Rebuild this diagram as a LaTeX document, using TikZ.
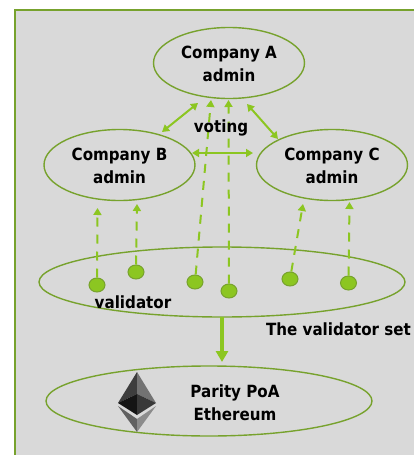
\documentclass[tikz,border=0pt]{standalone}
\usepackage{fontspec}
\setmainfont[FakeStretch=0.9]{DejaVu Sans}
\usetikzlibrary{arrows.meta,shapes.geometric}
\definecolor{frameg}{HTML}{77A22D}
\definecolor{lineg}{HTML}{8CC621}
\definecolor{panel}{HTML}{D9D9D9}
\tikzset{
  org/.style={ellipse,draw=frameg,line width=1.4pt,minimum width=#1,inner sep=0pt},
  lab/.style={font=\fontsize{16.8}{23}\selectfont\bfseries,text=black,align=center,inner sep=0pt},
  dot/.style={ellipse,draw=frameg,fill=lineg,line width=1pt,minimum width=16pt,minimum height=14pt,inner sep=0pt},
  vote/.style={draw=lineg,line width=2pt,{Triangle[length=7pt,width=8pt]}-{Triangle[length=7pt,width=8pt]}},
  report/.style={draw=lineg,line width=2pt,dash pattern=on 9pt off 8pt,-{Triangle[length=7pt,width=8pt]}},
  feed/.style={draw=lineg,line width=3.4pt,-{Triangle[length=11pt,width=12pt]}}
}
\begin{document}
\begin{tikzpicture}[x=1pt,y=-1pt]
\useasboundingbox (0,0) rectangle (413,455);
\fill[white] (0,0) rectangle (413,455);
\path[fill=panel,draw=frameg,line width=2pt] (15,470) -- (15,10) -- (430,10) -- (430,470) -- cycle;
\clip (0,0) rectangle (413,455);

\node[org=151pt,minimum height=71pt] (a) at (229,63) {};
\node[org=151pt,minimum height=71pt] (b) at (119.5,165) {};
\node[org=151pt,minimum height=71pt] (c) at (332,165) {};
\node[org=366pt,minimum height=70pt] (set) at (222,282) {};
\node[org=326pt,minimum height=70pt] (chain) at (209,401) {};

\node[dot] (d1) at (97,285) {};
\node[dot] (d2) at (136,272) {};
\node[dot] (d3) at (195,282) {};
\node[dot] (d4) at (229,291) {};
\node[dot] (d5) at (290,279) {};
\node[dot] (d6) at (348.5,283) {};

\coordinate (t1) at (97.5,208);
\coordinate (t2) at (137,204);
\coordinate (t3) at (211,100);
\coordinate (t4) at (228.5,100);
\coordinate (t5) at (303,204);
\coordinate (t6) at (349.5,202);
\draw[report] (d1) -- (t1);
\draw[report] (d2) -- (t2);
\draw[report] (d3) -- (t3);
\draw[report] (d4) -- (t4);
\draw[report] (d5) -- (t5);
\draw[report] (d6) -- (t6);

\coordinate (ab1) at (198,103);
\coordinate (ab2) at (162,132);
\coordinate (ac1) at (247,104);
\coordinate (ac2) at (278,139);
\coordinate (bc1) at (192,153);
\coordinate (bc2) at (253,153);
\draw[vote] (ab1) -- (ab2);
\draw[vote] (ac1) -- (ac2);
\draw[vote] (bc1) -- (bc2);

\coordinate (f1) at (222,317);
\coordinate (f2) at (222,362);
\draw[feed] (f1) -- (f2);

% Ethereum logo
\fill[black!76] (137,372) -- (118,403) -- (137,394) -- cycle;
\fill[black!55] (137,372) -- (156,403) -- (137,394) -- cycle;
\fill[black!92] (118,403) -- (137,394) -- (137,415) -- cycle;
\fill[black!78] (156,403) -- (137,394) -- (137,415) -- cycle;
\fill[black!62] (118,406) -- (137,419) -- (137,432) -- cycle;
\fill[black!45] (156,406) -- (137,419) -- (137,432) -- cycle;

\node[lab] (ta) at (229,64) {Company A\\admin};
\node[lab] (tb) at (119.5,166) {Company B\\admin};
\node[lab] (tc) at (332,166) {Company C\\admin};
\node[lab] (tv) at (221,128) {voting};
\node[lab] (tw) at (133,302) {validator};
\node[lab] (ts) at (338.5,329) {The validator set};
\node[lab] (tp) at (235,403) {Parity PoA\\Ethereum};
\end{tikzpicture}
\end{document}
